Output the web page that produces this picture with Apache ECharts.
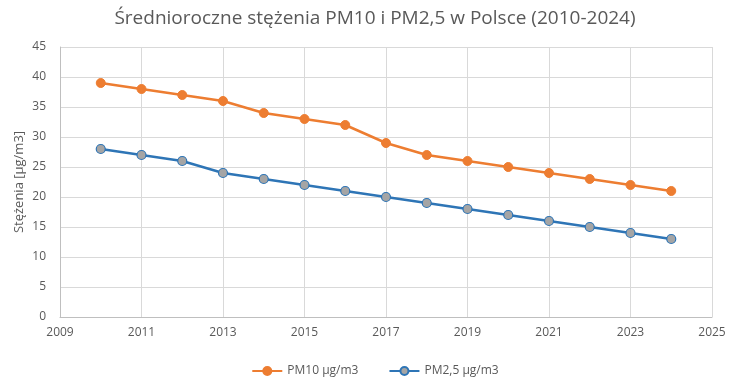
<!DOCTYPE html>
<html><head><meta charset="utf-8">
<script src="https://cdn.jsdelivr.net/npm/echarts@6/dist/echarts.min.js"></script>
<style>html,body{margin:0;padding:0;background:#fff}#c{width:750px;height:390px}</style>
</head><body><div id="c"></div>
<script>
const years = [2010,2011,2012,2013,2014,2015,2016,2017,2018,2019,2020,2021,2022,2023,2024];
const pm10 = [39,38,37,36,34,33,32,29,27,26,25,24,23,22,21];
const pm25 = [28,27,26,24,23,22,21,20,19,18,17,16,15,14,13];
const seriesNames = ['PM10 µg/m3','PM2,5 µg/m3'];
const titleText = 'Średnioroczne stężenia PM10 i PM2,5 w Polsce (2010-2024)';
const yAxisName = 'Stężenia [µg/m3]';

const chart = echarts.init(document.getElementById('c'));
const font = '"Open Sans", "Noto Sans", sans-serif';
chart.setOption({
  animation:false,
  textStyle:{fontFamily:font},
  title:{text:titleText,left:'center',top:4,textStyle:{fontFamily:font,fontSize:19,fontWeight:'normal',color:'#595959'}},
  legend:{bottom:8,left:'center',itemWidth:30,itemHeight:10,itemGap:30,textStyle:{fontFamily:font,fontSize:12,color:'#595959'},data:seriesNames},
  grid:{left:60,right:38,top:47,bottom:73},
  xAxis:{type:'value',min:2009,max:2025,interval:2,
    axisLine:{show:true,lineStyle:{color:'#bfbfbf'}},axisTick:{show:false},
    axisLabel:{color:'#595959',fontSize:12,margin:10,formatter:v=>String(v)},
    splitLine:{show:true,lineStyle:{color:'#d9d9d9'}}},
  yAxis:{type:'value',min:0,max:45,interval:5,name:yAxisName,nameLocation:'middle',nameGap:34,nameMoveOverlap:false,
    nameTextStyle:{color:'#595959',fontSize:13,fontFamily:font},
    axisLine:{show:true,lineStyle:{color:'#bfbfbf'}},axisTick:{show:false},
    axisLabel:{color:'#595959',fontSize:12,margin:14},
    splitLine:{show:true,lineStyle:{color:'#d9d9d9'}}},
  series:[
    {name:seriesNames[0],type:'line',data:years.map((y,i)=>[y,pm10[i]]),symbol:'circle',symbolSize:9,
     lineStyle:{color:'#ED7D31',width:2.5},itemStyle:{color:'#ED7D31',borderColor:'#ED7D31',borderWidth:1}},
    {name:seriesNames[1],type:'line',data:years.map((y,i)=>[y,pm25[i]]),symbol:'circle',symbolSize:9,
     lineStyle:{color:'#2E75B6',width:2.5},itemStyle:{color:'#A5A5A5',borderColor:'#2E75B6',borderWidth:1.2}}
  ]
});
</script></body></html>
